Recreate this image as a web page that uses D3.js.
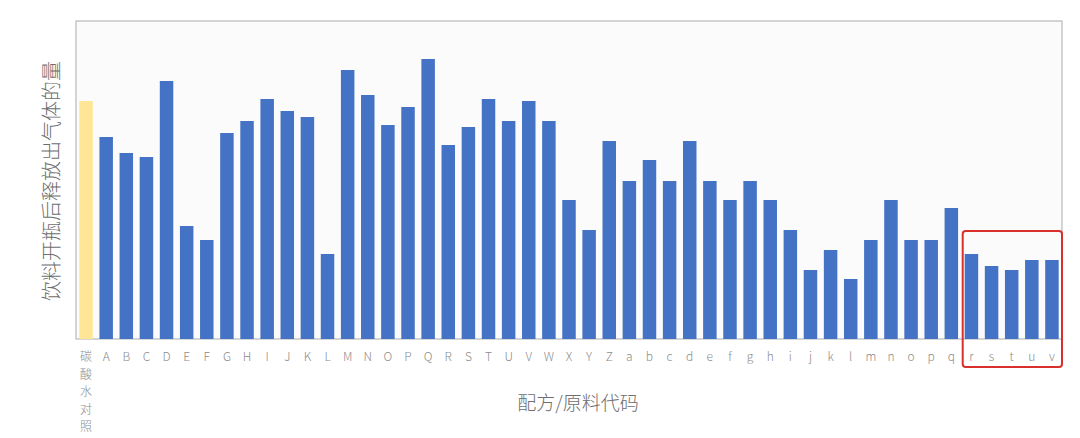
<!Doctype html>
<html>
<head>
  <meta charset="utf-8">
  <title>gas release</title>
  <style>
    body{ margin:0; background:#fff; }
    text{ font-family:"Noto Sans CJK SC","Noto Sans",sans-serif; }
  </style>
</head>
<body>
  <div id="container"></div>
  <script src="https://cdn.jsdelivr.net/npm/d3@7/dist/d3.min.js"></script>
  <script>
  // categories: control first, then formula codes
  var categories = ["碳酸水对照",
    "A","B","C","D","E","F","G","H","I","J","K","L","M",
    "N","O","P","Q","R","S","T","U","V","W","X","Y","Z",
    "a","b","c","d","e","f","g","h","i","j","k","l","m",
    "n","o","p","q","r","s","t","u","v"];

  // gas released after opening (arbitrary units)
  var values = [23.8,
    20.2,18.6,18.2,25.8,11.3,9.9,20.6,21.8,24.0,22.8,22.2,8.5,26.9,
    24.4,21.4,23.2,28.0,19.4,21.2,24.0,21.8,23.8,21.8,13.9,10.9,19.8,
    15.8,17.9,15.8,19.8,15.8,13.9,15.8,13.9,10.9,6.9,8.9,6.0,9.9,
    13.9,9.9,9.9,13.1,8.5,7.3,6.9,7.9,7.9];

  var highlighted = ["r","s","t","u","v"];

  var yTitle = "饮料开瓶后释放出气体的量";
  var xTitle = "配方/原料代码";

  var W = 1080, H = 438;
  var margin = {top: 21, right: 18, bottom: 99, left: 76},
      width = W - margin.left - margin.right,
      height = H - margin.top - margin.bottom;

  var svg = d3.select("#container").append("svg")
      .attr("width", W)
      .attr("height", H);

  var xScale = d3.scaleBand().domain(categories)
      .range([margin.left, margin.left + width])
      .paddingInner(0.33).paddingOuter(0.165);
  var yScale = d3.scaleLinear().domain([0, 31.8])
      .range([margin.top + height, margin.top]);

  // plot area
  svg.append("rect")
      .attr("x", margin.left).attr("y", margin.top)
      .attr("width", width).attr("height", height)
      .attr("fill", "#fbfbfb")
      .attr("stroke", "#bdbdbd").attr("stroke-width", 1.3);

  // bars
  svg.selectAll(".bar").data(categories).enter().append("rect")
      .attr("class", "bar")
      .attr("x", d => xScale(d))
      .attr("width", xScale.bandwidth())
      .attr("y", (d, i) => yScale(values[i]))
      .attr("height", (d, i) => yScale(0) - yScale(values[i]))
      .attr("fill", (d, i) => i == 0 ? "#ffe596" : "#4472c4");

  // x axis
  var xAxis = d3.axisBottom(xScale).tickSize(0).tickPadding(0);
  var gx = svg.append("g")
      .attr("transform", "translate(0," + yScale(0) + ")")
      .call(xAxis);
  gx.select(".domain").attr("stroke", "#d6d6d6").attr("stroke-width", 1.2);
  gx.selectAll(".tick text").remove();
  gx.selectAll(".tick").each(function(d){
    var t = d3.select(this).append("text")
        .attr("fill", "#8c8c8c")
        .attr("font-size", 12)
        .attr("font-weight", 300)
        .attr("text-anchor", "middle");
    if (d.length > 1) {
      d.split("").forEach(function(ch, k){
        t.append("tspan").attr("x", 0).attr("y", 22 + k * 17.5).text(ch);
      });
    } else {
      t.attr("y", 22).text(d);
    }
  });

  // axis titles
  svg.append("text")
      .text(yTitle)
      .attr("transform", "translate(50," + (margin.top + 160) + ") rotate(-90)")
      .attr("text-anchor", "middle")
      .attr("dominant-baseline", "central")
      .attr("font-size", 20)
      .attr("font-weight", 300)
      .attr("fill", "#6e6e6e");

  svg.append("text")
      .text(xTitle)
      .attr("x", 578).attr("y", 410)
      .attr("text-anchor", "middle")
      .attr("font-size", 19)
      .attr("font-weight", 300)
      .attr("fill", "#6e6e6e");

  // red box round the last group
  var x0 = xScale(highlighted[0]) - 2;
  svg.append("rect")
      .attr("x", x0).attr("y", 231)
      .attr("width", margin.left + width - x0).attr("height", 136)
      .attr("rx", 3).attr("ry", 3)
      .attr("fill", "none")
      .attr("stroke", "#d9302c").attr("stroke-width", 2);
  </script>
</body>
</html>
